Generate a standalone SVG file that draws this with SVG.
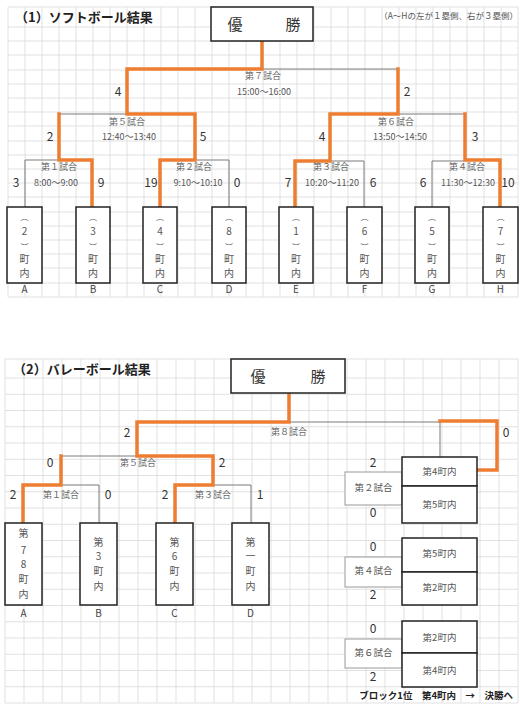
<svg xmlns="http://www.w3.org/2000/svg" width="520" height="709" viewBox="0 0 520 709">
<style>
text{font-family:"Noto Sans CJK JP","Noto Sans",sans-serif}
.grid{stroke:#d9d9d9;stroke-width:0.8;fill:none}
.g{stroke:#7a7a7a;stroke-width:1;fill:none}
.o{stroke:#ED7D31;stroke-width:3.5;fill:none;stroke-linejoin:miter;stroke-linecap:square}
.box{fill:#fff;stroke:#222;stroke-width:1.5}
.mbox{fill:#fff;stroke:#999;stroke-width:1}
.sc{font-size:12px;fill:#333;text-anchor:middle}
.lb{font-size:9px;fill:#666;text-anchor:middle}
.tm{font-size:9px;fill:#555;text-anchor:middle}
.vt{font-size:10px;fill:#555;text-anchor:middle}
.pr{font-size:8px;fill:#555;text-anchor:middle}
.let{font-size:10px;fill:#444;text-anchor:middle}
.win{font-size:15px;fill:#333;text-anchor:middle}
.bt{font-size:9.5px;fill:#555;text-anchor:middle}
</style>
<rect width="520" height="709" fill="#fff"/>
<g id="grid-top">
<path class="grid" d="M8 7V297M25 7V297M42 7V297M59 7V297M76 7V297M93 7V297M110 7V297M127 7V297M144 7V297M161 7V297M178 7V297M195 7V297M212 7V297M229 7V297M246 7V297M263 7V297M280 7V297M297 7V297M314 7V297M331 7V297M348 7V297M365 7V297M382 7V297M399 7V297M416 7V297M433 7V297M450 7V297M467 7V297M484 7V297M501 7V297M518 7V297"/>
<path class="grid" d="M8 7H518M8 27H518M8 41H518M8 55H518M8 70H518M8 84H518M8 98H518M8 112H518M8 126H518M8 141H518M8 155H518M8 169H518M8 183H518M8 197H518M8 212H518M8 226H518M8 240H518M8 254H518M8 268H518M8 283H518M8 297H518"/>
</g>
<g id="grid-bottom">
<path class="grid" d="M5 359V703M24 359V703M43 359V703M62 359V703M81 359V703M100 359V703M119 359V703M138 359V703M157 359V703M176 359V703M195 359V703M214 359V703M233 359V703M252 359V703M271 359V703M290 359V703M309 359V703M328 359V703M347 359V703M366 359V703M385 359V703M404 359V703M423 359V703M442 359V703M461 359V703M480 359V703M499 359V703M518 359V703"/>
<path class="grid" d="M5 359H518M5 378H518M5 394.25H518M5 410.5H518M5 426.75H518M5 443H518M5 459.25H518M5 475.5H518M5 491.75H518M5 508H518M5 524.25H518M5 540.5H518M5 556.75H518M5 573H518M5 589.25H518M5 605.5H518M5 621.75H518M5 638H518M5 654.25H518M5 670.5H518M5 686.75H518M5 703H518"/>
</g>
<text x="15" y="22" font-size="13" font-weight="bold" fill="#222">（1）ソフトボール結果</text>
<text x="518" y="19" font-size="8.5" fill="#555" text-anchor="end">（A～Hの左が１塁側、右が３塁側）</text>
<text x="13" y="374" font-size="13" font-weight="bold" fill="#222">（2）バレーボール結果</text>

<g id="connectors">
<path class="g" d="M262 69H398M59 114H127M25 207V160H59M195 160H229V207M364 207V161H330M398 114H465M432 207V161H465"/>
<path class="o" d="M262 41V69H127V114H195V160H160V207"/>
<path class="o" d="M59 114V160H92V207"/>
<path class="o" d="M398 69V114H330V161H295V207"/>
<path class="o" d="M465 114V160H500V207"/>
<path class="g" d="M289 422H440V457M61 456H137M61 485H99V523M213 485H251V523"/>
<path class="o" d="M289 393V422H137V456H213V485H175V523"/>
<path class="o" d="M61 456V485H23V523"/>
<path class="o" d="M440 421H497V470H477"/>
</g>

<g id="winner-top"><rect class="box" x="211" y="7" width="102" height="34"/><text class="win" x="235" y="30">優</text><text class="win" x="293" y="30">勝</text></g>
<g id="winner-bottom"><rect class="box" x="231" y="359" width="114" height="34"/><text class="win" x="258" y="382">優</text><text class="win" x="318" y="382">勝</text></g>

<g id="labels-top">
<text class="lb" x="263" y="79">第７試合</text><text class="tm" x="264" y="95">15:00～16:00</text>
<text class="sc" x="118" y="96">4</text><text class="sc" x="407" y="96">2</text>
<text class="lb" x="127" y="125">第５試合</text><text class="tm" x="129" y="140">12:40～13:40</text>
<text class="sc" x="50" y="141">2</text><text class="sc" x="203" y="141">5</text>
<text class="lb" x="396" y="125">第６試合</text><text class="tm" x="400" y="140">13:50～14:50</text>
<text class="sc" x="322" y="141">4</text><text class="sc" x="475" y="141">3</text>
<text class="lb" x="59" y="170">第１試合</text><text class="tm" x="56" y="186">8:00～9:00</text>
<text class="sc" x="16" y="187">3</text><text class="sc" x="101" y="187">9</text>
<text class="lb" x="194" y="170">第２試合</text><text class="tm" x="198" y="186">9:10～10:10</text>
<text class="sc" x="151" y="187">19</text><text class="sc" x="237" y="187">0</text>
<text class="lb" x="331" y="170">第３試合</text><text class="tm" x="332" y="186">10:20～11:20</text>
<text class="sc" x="288" y="187">7</text><text class="sc" x="373" y="187">6</text>
<text class="lb" x="467" y="170">第４試合</text><text class="tm" x="468" y="186">11:30～12:30</text>
<text class="sc" x="423" y="187">6</text><text class="sc" x="508" y="187">10</text>
</g>

<g id="team-A"><rect class="box" x="7" y="207" width="35" height="76"/><text class="pr" x="24.5" y="220">︵</text><text class="vt" x="24.5" y="235">2</text><text class="pr" x="24.5" y="250">︶</text><text class="vt" x="24.5" y="263">町</text><text class="vt" x="24.5" y="277">内</text><text class="let" x="24.5" y="293">A</text></g>
<g id="team-B"><rect class="box" x="76" y="207" width="34" height="76"/><text class="pr" x="93" y="220">︵</text><text class="vt" x="93" y="235">3</text><text class="pr" x="93" y="250">︶</text><text class="vt" x="93" y="263">町</text><text class="vt" x="93" y="277">内</text><text class="let" x="93" y="293">B</text></g>
<g id="team-C"><rect class="box" x="143" y="207" width="34" height="76"/><text class="pr" x="160" y="220">︵</text><text class="vt" x="160" y="235">4</text><text class="pr" x="160" y="250">︶</text><text class="vt" x="160" y="263">町</text><text class="vt" x="160" y="277">内</text><text class="let" x="160" y="293">C</text></g>
<g id="team-D"><rect class="box" x="212" y="207" width="34" height="76"/><text class="pr" x="229" y="220">︵</text><text class="vt" x="229" y="235">8</text><text class="pr" x="229" y="250">︶</text><text class="vt" x="229" y="263">町</text><text class="vt" x="229" y="277">内</text><text class="let" x="229" y="293">D</text></g>
<g id="team-E"><rect class="box" x="279" y="207" width="34" height="76"/><text class="pr" x="296" y="220">︵</text><text class="vt" x="296" y="235">1</text><text class="pr" x="296" y="250">︶</text><text class="vt" x="296" y="263">町</text><text class="vt" x="296" y="277">内</text><text class="let" x="296" y="293">E</text></g>
<g id="team-F"><rect class="box" x="347" y="207" width="35" height="76"/><text class="pr" x="364.5" y="220">︵</text><text class="vt" x="364.5" y="235">6</text><text class="pr" x="364.5" y="250">︶</text><text class="vt" x="364.5" y="263">町</text><text class="vt" x="364.5" y="277">内</text><text class="let" x="364.5" y="293">F</text></g>
<g id="team-G"><rect class="box" x="415" y="207" width="34" height="76"/><text class="pr" x="432" y="220">︵</text><text class="vt" x="432" y="235">5</text><text class="pr" x="432" y="250">︶</text><text class="vt" x="432" y="263">町</text><text class="vt" x="432" y="277">内</text><text class="let" x="432" y="293">G</text></g>
<g id="team-H"><rect class="box" x="483" y="207" width="35" height="76"/><text class="pr" x="500.5" y="220">︵</text><text class="vt" x="500.5" y="235">7</text><text class="pr" x="500.5" y="250">︶</text><text class="vt" x="500.5" y="263">町</text><text class="vt" x="500.5" y="277">内</text><text class="let" x="500.5" y="293">H</text></g>

<g id="labels-bottom">
<text class="lb" x="289" y="435">第８試合</text>
<text class="sc" x="127" y="437">2</text><text class="sc" x="506" y="437">0</text>
<text class="lb" x="138" y="466">第５試合</text>
<text class="sc" x="50" y="467">0</text><text class="sc" x="222" y="467">2</text>
<text class="lb" x="61" y="498">第１試合</text>
<text class="sc" x="13" y="499">2</text><text class="sc" x="108" y="499">0</text>
<text class="lb" x="213" y="498">第３試合</text>
<text class="sc" x="165" y="499">2</text><text class="sc" x="260" y="499">1</text>
</g>

<g id="vteam-A"><rect class="box" x="5" y="523" width="37" height="82"/><text class="vt" x="23.5" y="537">第</text><text class="vt" x="23.5" y="554">7</text><text class="vt" x="23.5" y="568">8</text><text class="vt" x="23.5" y="583">町</text><text class="vt" x="23.5" y="598">内</text><text class="let" x="23.5" y="617">A</text></g>
<g id="vteam-B"><rect class="box" x="80" y="523" width="37" height="82"/><text class="vt" x="98.5" y="546">第</text><text class="vt" x="98.5" y="560">3</text><text class="vt" x="98.5" y="575">町</text><text class="vt" x="98.5" y="590">内</text><text class="let" x="98.5" y="617">B</text></g>
<g id="vteam-C"><rect class="box" x="156" y="523" width="37" height="82"/><text class="vt" x="174.5" y="546">第</text><text class="vt" x="174.5" y="560">6</text><text class="vt" x="174.5" y="575">町</text><text class="vt" x="174.5" y="590">内</text><text class="let" x="174.5" y="617">C</text></g>
<g id="vteam-D"><rect class="box" x="232" y="523" width="37" height="82"/><text class="vt" x="250.5" y="546">第</text><text class="vt" x="250.5" y="560">一</text><text class="vt" x="250.5" y="575">町</text><text class="vt" x="250.5" y="590">内</text><text class="let" x="250.5" y="617">D</text></g>

<g id="block-match2"><rect class="mbox" x="345" y="472" width="57" height="33"/><text class="bt" x="373.5" y="491">第２試合</text><text class="sc" x="373" y="467">2</text><text class="sc" x="373" y="517">0</text></g>
<g id="block-t4a"><rect class="box" x="402" y="457" width="75" height="29"/><text class="bt" x="439.5" y="475">第4町内</text></g>
<g id="block-t5a"><rect class="box" x="402" y="486" width="75" height="37"/><text class="bt" x="439.5" y="508">第5町内</text></g>
<g id="block-match4"><rect class="mbox" x="345" y="557" width="57" height="30"/><text class="bt" x="373.5" y="574">第４試合</text><text class="sc" x="373" y="551">0</text><text class="sc" x="373" y="599">2</text></g>
<g id="block-t5b"><rect class="box" x="402" y="538" width="75" height="34"/><text class="bt" x="439.5" y="557">第5町内</text></g>
<g id="block-t2b"><rect class="box" x="402" y="572" width="75" height="33"/><text class="bt" x="439.5" y="591">第2町内</text></g>
<g id="block-match6"><rect class="mbox" x="345" y="639" width="57" height="29"/><text class="bt" x="373.5" y="656">第６試合</text><text class="sc" x="373" y="633">0</text><text class="sc" x="373" y="681">2</text></g>
<g id="block-t2c"><rect class="box" x="402" y="621" width="75" height="32"/><text class="bt" x="439.5" y="641">第2町内</text></g>
<g id="block-t4c"><rect class="box" x="402" y="653" width="75" height="34"/><text class="bt" x="439.5" y="674">第4町内</text></g>
<text x="513" y="699" font-size="9.5" font-weight="bold" fill="#222" text-anchor="end">ブロック1位　第4町内　→　決勝へ</text>
</svg>
